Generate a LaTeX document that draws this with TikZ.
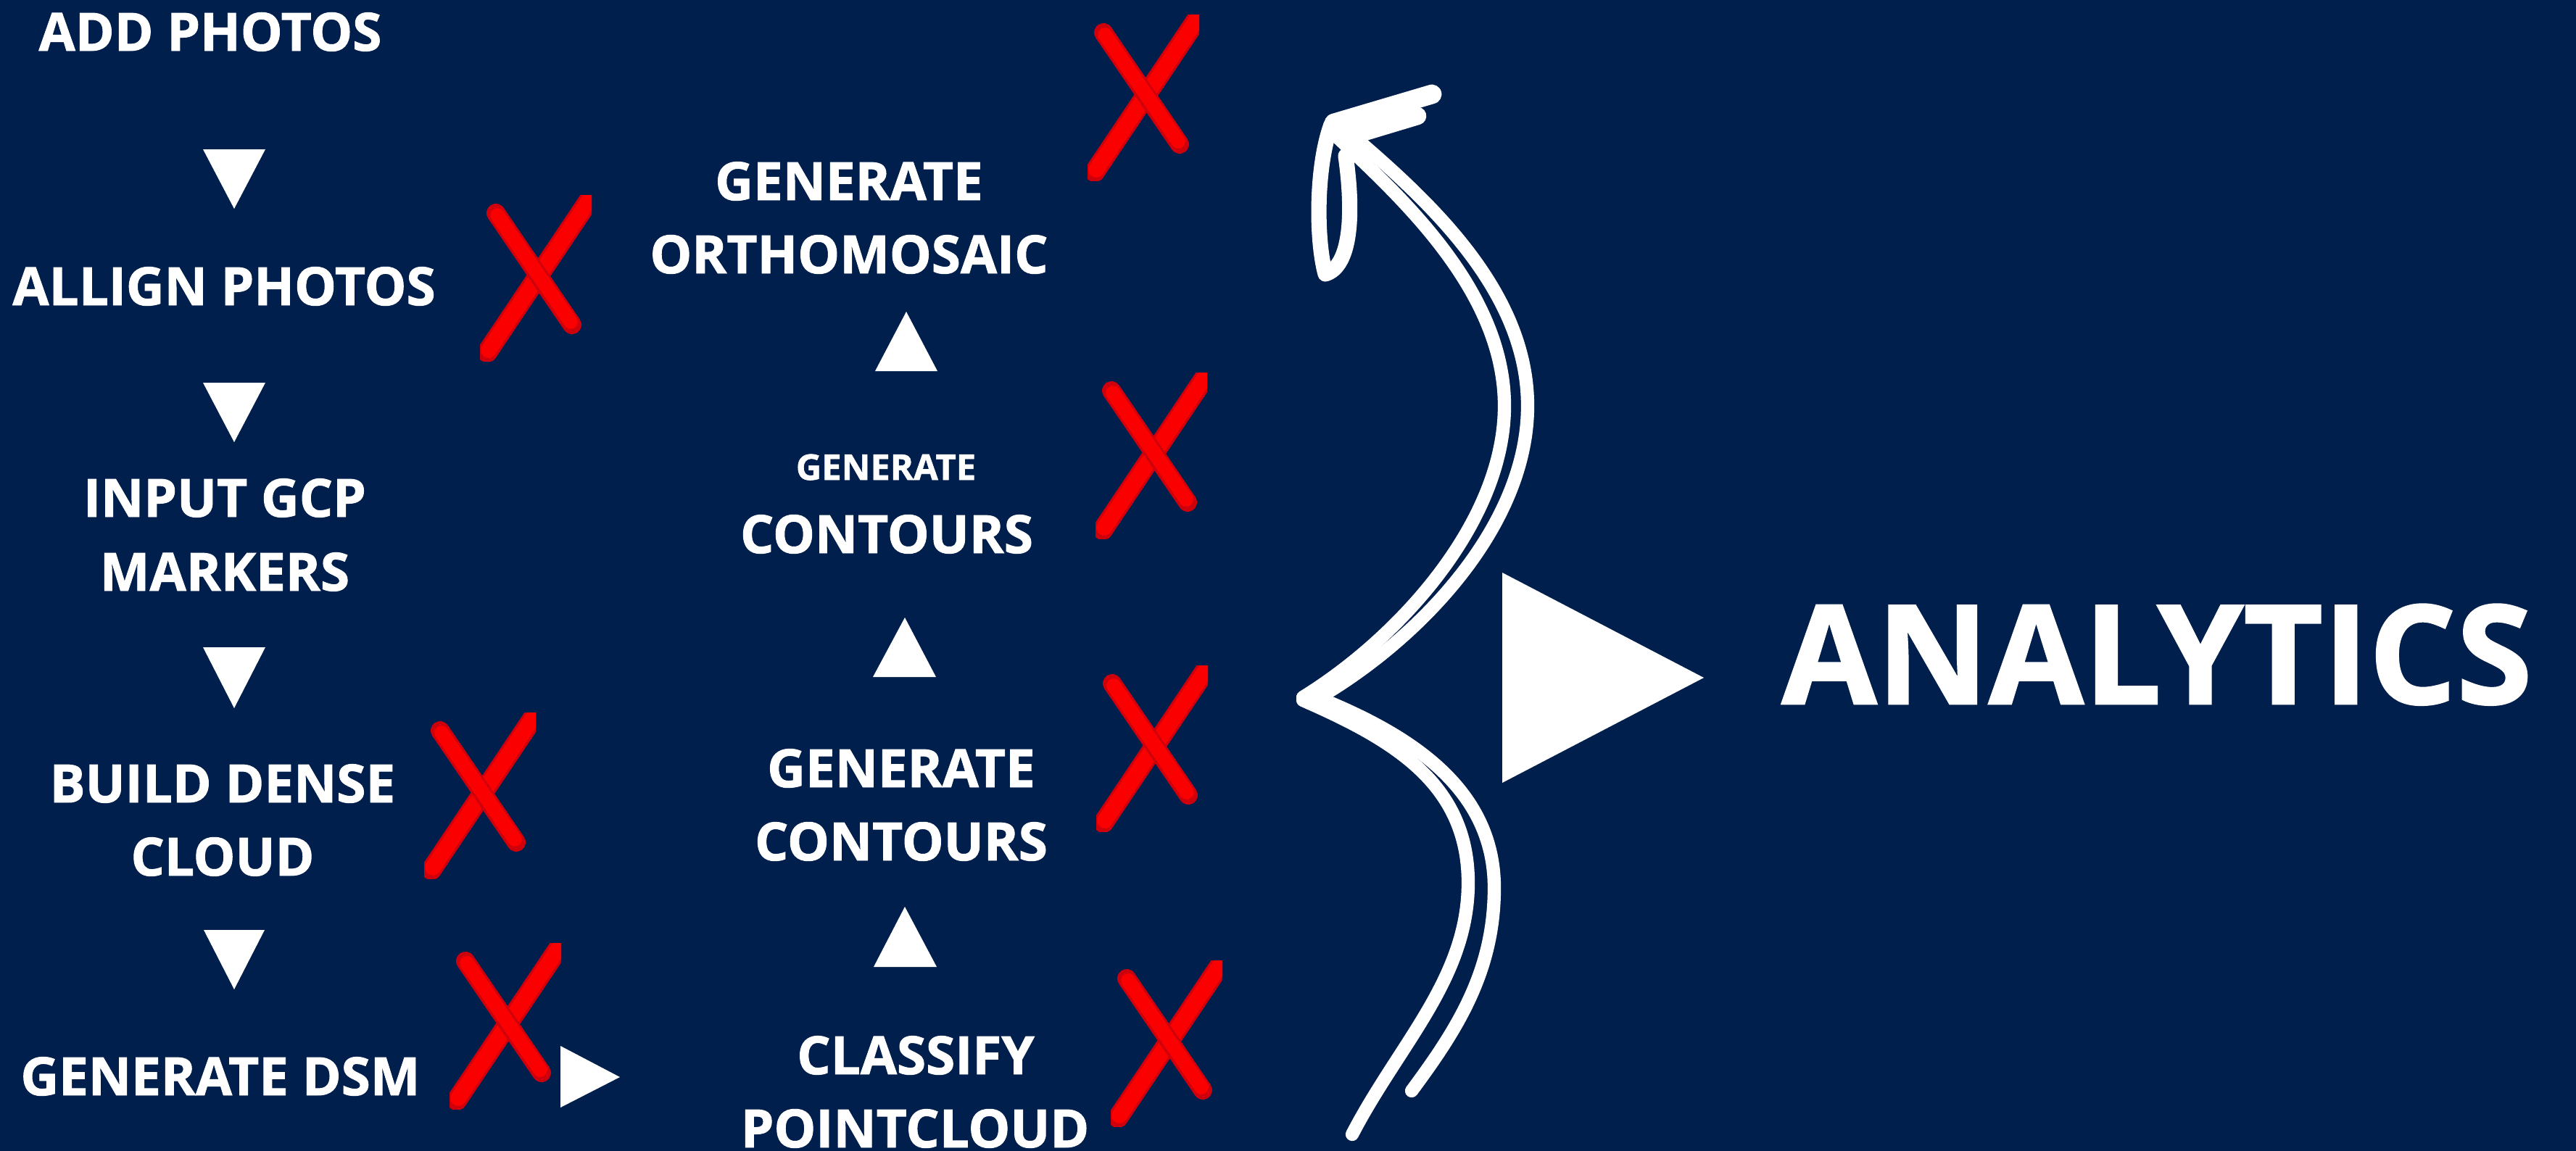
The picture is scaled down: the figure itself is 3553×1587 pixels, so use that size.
\documentclass[tikz,border=0pt]{standalone}
\usepackage{fontspec}
\setmainfont{Open Sans}[BoldFeatures={FakeBold=1.3}]
\definecolor{bgnavy}{RGB}{1,31,76}
\definecolor{xred}{RGB}{250,0,0}
\definecolor{xdark}{RGB}{205,0,12}
\tikzset{
  lbl/.style={font=\bfseries\fontsize{20.7}{24}\selectfont, text=white, anchor=base, inner sep=0pt},
  lblsmall/.style={lbl, font=\bfseries\fontsize{13.9}{16}\selectfont},
  lblbig/.style={lbl, font=\bfseries\fontsize{54}{60}\selectfont},
  tri/.style={fill=white},
  swoosh/.style={draw=white, line width=5.2pt, line cap=round, line join=round},
  redx/.pic={
    \begin{scope}
      \clip (0,-3) rectangle (154,226);
      \draw[xdark, line width=8pt, line cap=round] (10,214) -- (172,-28);
      \draw[xred, line width=6.2pt, line cap=round] (12,211) -- (172,-28);
      \draw[xdark, line width=7.4pt, line cap=round] (22,22) -- (127,176);
      \draw[xred, line width=5.6pt, line cap=round] (24,25) -- (125,172);
    \end{scope}
  }
}
\begin{document}
\begin{tikzpicture}[x=0.01cm, y=-0.01cm]
  \useasboundingbox (0,0) rectangle (3553,1587);
  \fill[bgnavy] (-20,-20) rectangle (3573,1607);

  % left column
  \node[lbl] (add) at (290,70) {ADD PHOTOS};
  \node[lbl] (allign) at (309,421) {ALLIGN PHOTOS};
  \node[lbl] (gcpa) at (310,713) {INPUT GCP};
  \node[lbl] (gcpb) at (310,815) {MARKERS};
  \node[lbl] (densea) at (307,1107) {BUILD DENSE};
  \node[lbl] (denseb) at (307,1208) {CLOUD};
  \node[lbl] (dsm) at (304,1511) {GENERATE DSM};

  % middle column
  \node[lbl] (orthoa) at (1171,276) {GENERATE};
  \node[lbl] (orthob) at (1171,377) {ORTHOMOSAIC};
  \node[lblsmall] (cont1a) at (1222,662) {GENERATE};
  \node[lbl] (cont1b) at (1223,763) {CONTOURS};
  \node[lbl] (cont2a) at (1243,1086) {GENERATE};
  \node[lbl] (cont2b) at (1243,1187) {CONTOURS};
  \node[lbl] (clsa) at (1263,1482) {CLASSIFY};
  \node[lbl] (clsb) at (1262,1583) {POINTCLOUD};

  \node[lblbig] (analytics) at (2975,971) {ANALYTICS};

  % down triangles
  \fill[tri] (280,206) -- (366,206) -- (323,288) -- cycle;
  \fill[tri] (280,528) -- (366,528) -- (323,610) -- cycle;
  \fill[tri] (280,893) -- (366,893) -- (323,977) -- cycle;
  \fill[tri] (281,1283) -- (365,1283) -- (323,1365) -- cycle;
  % up triangles
  \fill[tri] (1207,512) -- (1293,512) -- (1250,430) -- cycle;
  \fill[tri] (1204,934) -- (1291,934) -- (1248,852) -- cycle;
  \fill[tri] (1205,1334) -- (1292,1334) -- (1248,1251) -- cycle;
  % right triangles
  \fill[tri] (773,1443) -- (773,1528) -- (855,1486) -- cycle;
  \fill[tri] (2072,790) -- (2072,1080) -- (2350,935) -- cycle;

  % red crosses
  \pic at (1500,23) {redx};
  \pic at (662,272) {redx};
  \pic at (1511,517) {redx};
  \pic at (1512,921) {redx};
  \pic at (585,986) {redx};
  \pic at (620,1304) {redx};
  \pic at (1532,1328) {redx};

  % swoosh brace arrow: lower half
  \draw[swoosh] (1797,966) .. controls (1920,1020) and (2025,1080) .. (2025,1218)
                .. controls (2025,1350) and (1930,1440) .. (1865,1565);
  \draw[swoosh] (1806,958) .. controls (1940,1010) and (2061,1085) .. (2061,1225)
                .. controls (2061,1340) and (2010,1420) .. (1947,1505);
  % upper half
  \draw[swoosh] (1797,962) .. controls (1930,880) and (2075,720) .. (2075,560)
                .. controls (2075,400) and (1930,270) .. (1840,185);
  \draw[swoosh] (1806,970) .. controls (1950,890) and (2107,730) .. (2107,560)
                .. controls (2107,390) and (1950,260) .. (1848,172);
  % arrow head
  \draw[swoosh, line width=7.6pt] (1840,170) -- (1975,130);
  \draw[swoosh, line width=7pt] (1862,188) -- (1955,160);
  \draw[swoosh, line width=6pt] (1836,172) .. controls (1815,230) and (1815,330) .. (1828,378) .. controls (1862,368) and (1868,300) .. (1856,215);
\end{tikzpicture}
\end{document}
